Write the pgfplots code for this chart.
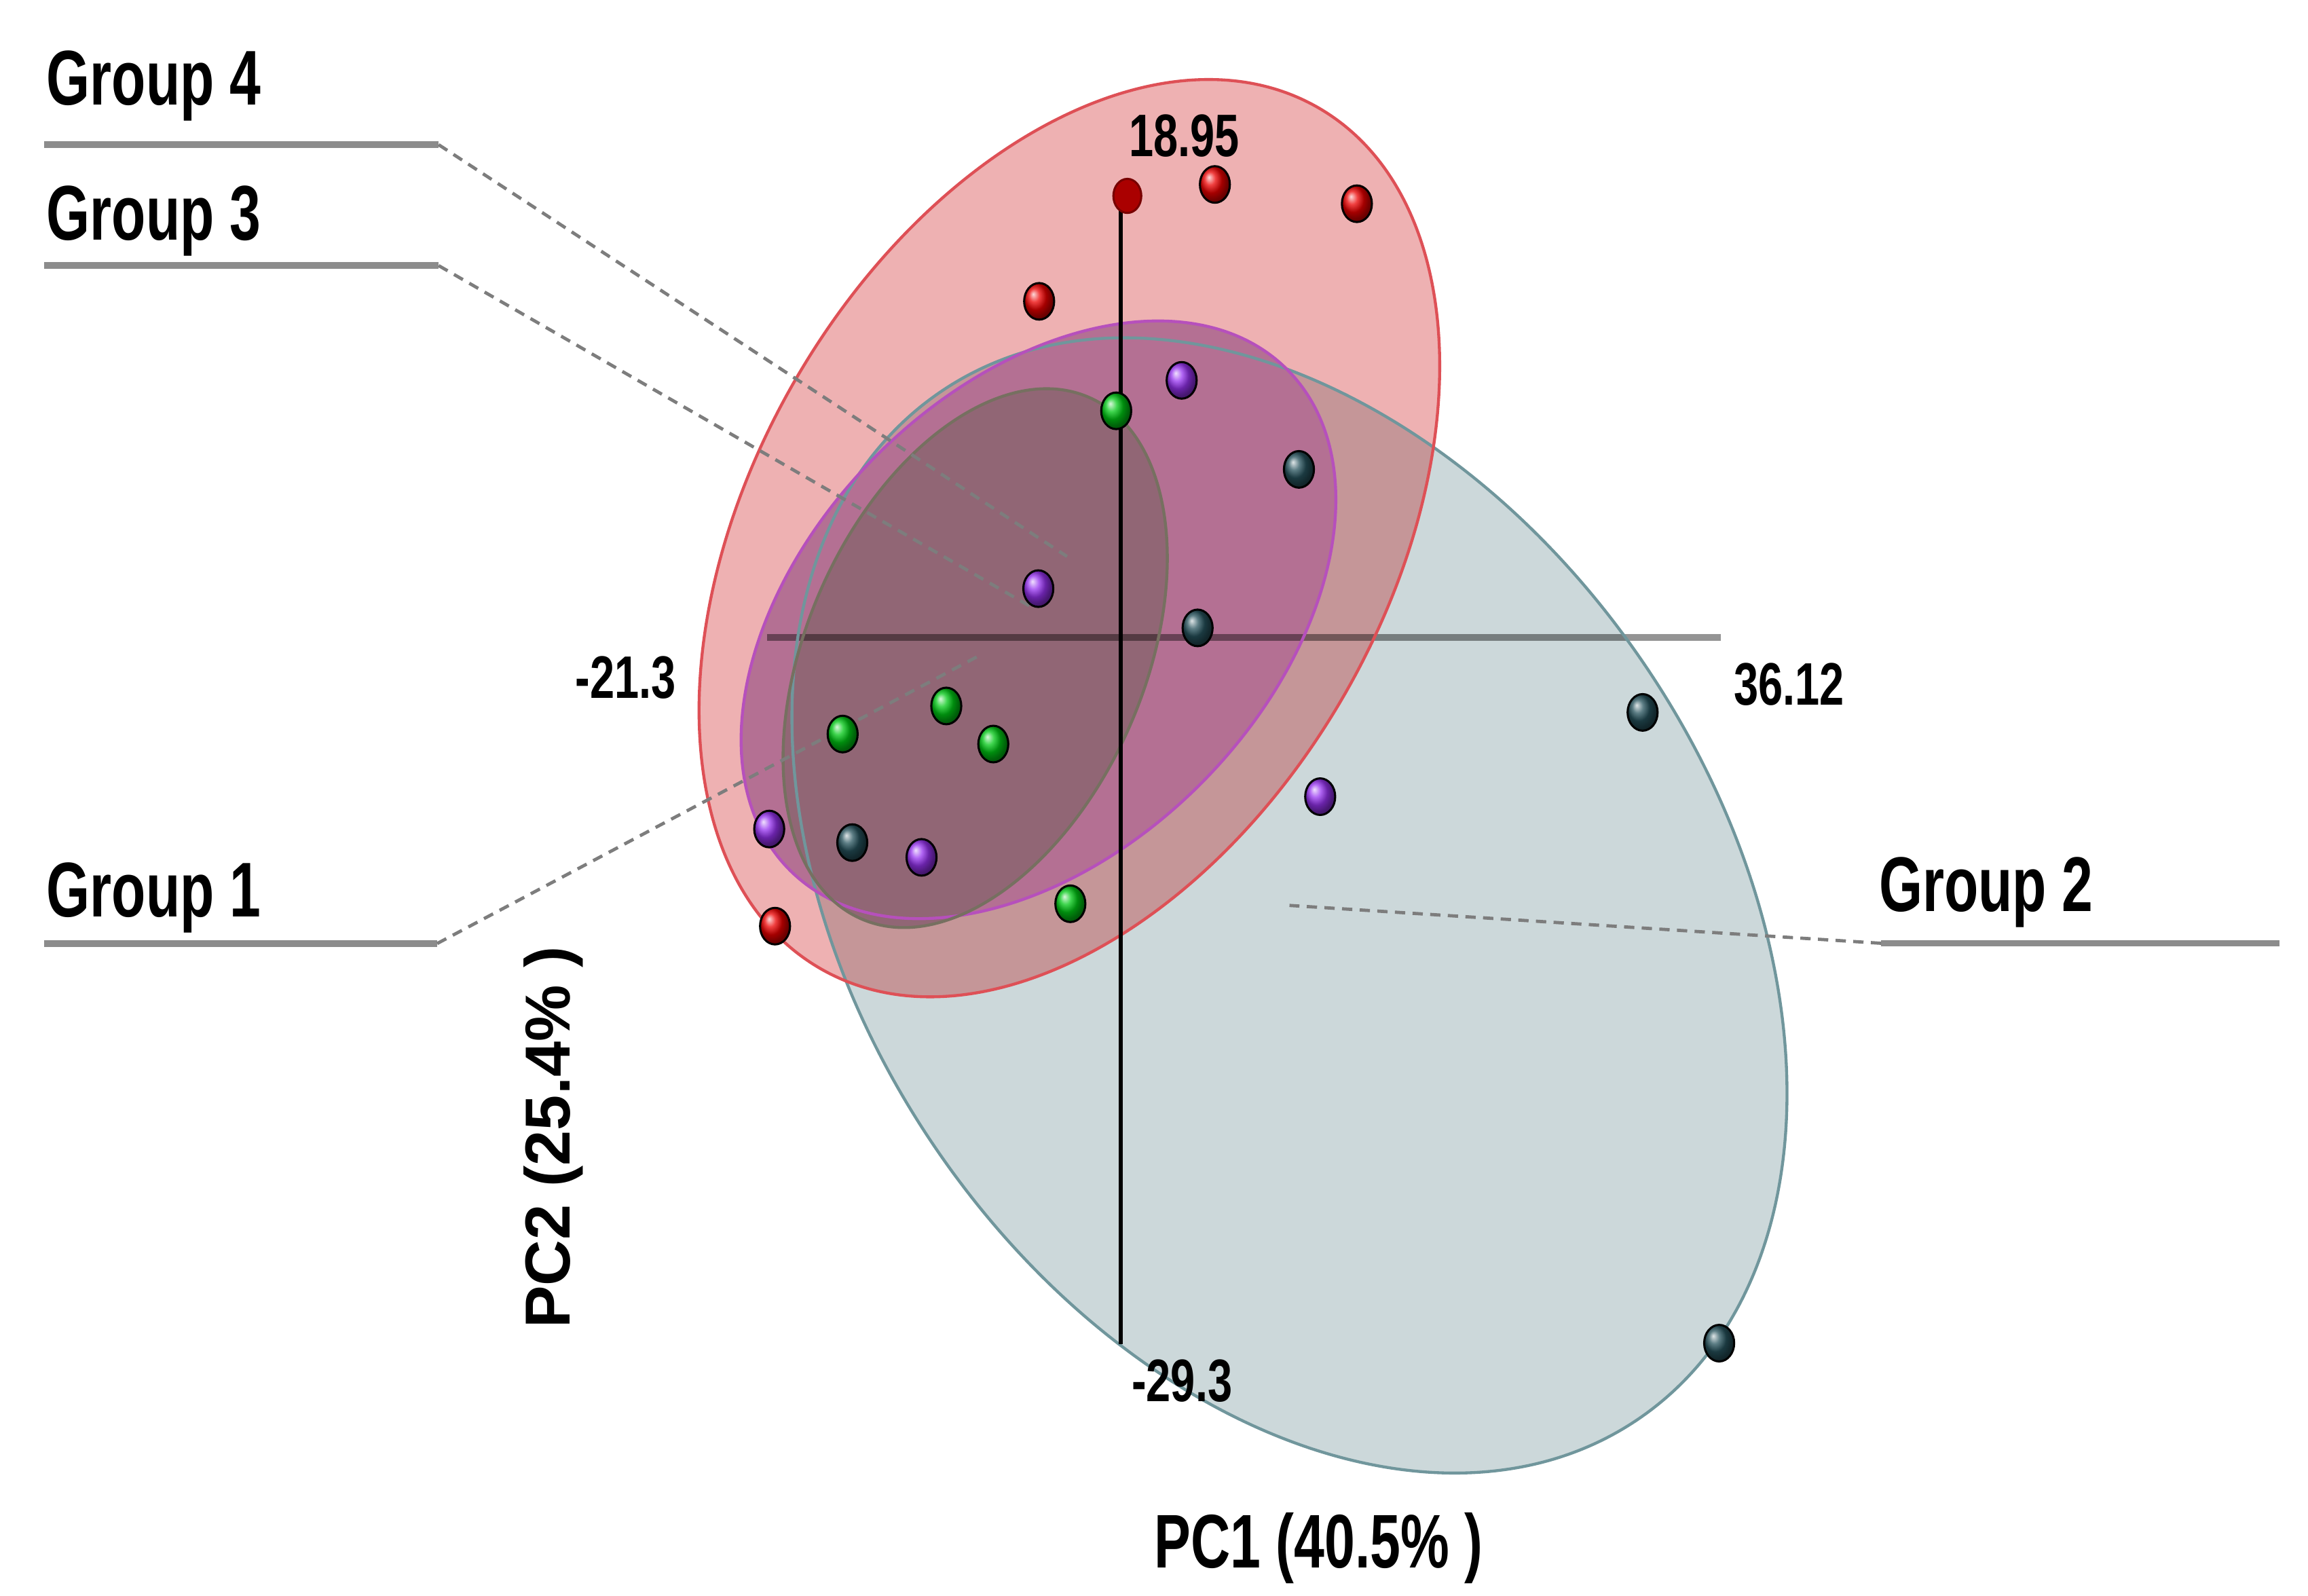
\documentclass[border=0pt]{standalone}
\usepackage{fontspec}
\setmainfont{Liberation Sans}
\usepackage{graphicx}
\usepackage{pgfplots}
\pgfplotsset{compat=1.18}

\definecolor{tealfill}{RGB}{204,216,218}
\definecolor{tealline}{RGB}{112,150,156}
\definecolor{redfill}{RGB}{238,177,178}
\definecolor{redteal}{RGB}{197,150,152}
\definecolor{redline}{RGB}{222,80,86}
\definecolor{purfill}{RGB}{180,112,147}
\definecolor{purline}{RGB}{182,80,188}
\definecolor{gonefill}{RGB}{145,102,117}
\definecolor{goneline}{RGB}{118,112,96}
\definecolor{ptred}{RGB}{235,0,0}
\definecolor{ptdred}{RGB}{170,0,0}
\definecolor{ptpur}{RGB}{150,50,240}
\definecolor{ptgrn}{RGB}{0,200,20}
\definecolor{ptteal}{RGB}{38,82,92}
\definecolor{connector}{RGB}{125,125,125}
\definecolor{labline}{RGB}{140,140,140}

\newcommand{\grouplab}[1]{\scalebox{0.72}[1]{\fontsize{15}{18}\selectfont\bfseries #1}}
\newcommand{\numlab}[1]{\scalebox{0.735}[1]{\fontsize{11.6}{14}\selectfont\bfseries #1}}

\begin{document}
\begin{tikzpicture}
\begin{axis}[
  scale only axis, width=15.68cm, height=10.84cm,
  xmin=-67.47, xmax=71.48, ymin=-39.87, ymax=27.17,
  hide axis, clip=false,
]
\path (rel axis cs:0,0) rectangle (rel axis cs:1,1);

% confidence ellipses (fills)
\fill[tealfill] (axis cs:10.16,-10.87) ellipse [x radius=4.218cm, y radius=2.915cm, rotate=-55.85];
\fill[redfill] (axis cs:-3.09,4.56) ellipse [x radius=3.378cm, y radius=2.15cm, rotate=59.9];
\begin{scope}
\clip (axis cs:10.16,-10.87) ellipse [x radius=4.218cm, y radius=2.915cm, rotate=-55.85];
\fill[redteal] (axis cs:-3.09,4.56) ellipse [x radius=3.378cm, y radius=2.15cm, rotate=59.9];
\end{scope}
\fill[purfill] (axis cs:-4.95,1.13) ellipse [x radius=2.397cm, y radius=1.567cm, rotate=45.35];
\fill[gonefill] (axis cs:-8.76,-0.48) ellipse [x radius=1.933cm, y radius=1.147cm, rotate=66.4];

% horizontal axis line
\draw[black!42, line width=0.45mm, blend mode=multiply] (axis cs:-21.3,0.39) -- (axis cs:36.12,0.39);

% outlines
\draw[tealline, line width=0.2mm] (axis cs:10.16,-10.87) ellipse [x radius=4.218cm, y radius=2.915cm, rotate=-55.85];
\draw[redline, line width=0.2mm] (axis cs:-3.09,4.56) ellipse [x radius=3.378cm, y radius=2.15cm, rotate=59.9];
\draw[purline, line width=0.2mm] (axis cs:-4.95,1.13) ellipse [x radius=2.397cm, y radius=1.567cm, rotate=45.35];
\draw[goneline, line width=0.2mm] (axis cs:-8.76,-0.48) ellipse [x radius=1.933cm, y radius=1.147cm, rotate=66.4];

% group label lines and connectors
\draw[labline, line width=0.45mm] (axis cs:-64.81,21.09) -- (axis cs:-41.06,21.09);
\draw[labline, line width=0.45mm] (axis cs:-64.81,16.01) -- (axis cs:-41.06,16.01);
\draw[labline, line width=0.45mm] (axis cs:-64.81,-12.47) -- (axis cs:-41.15,-12.47);
\draw[labline, line width=0.45mm] (axis cs:45.78,-12.46) -- (axis cs:69.75,-12.46);
\draw[connector, line width=0.22mm, dash pattern=on 0.7mm off 0.5mm] (axis cs:-41.06,21.09) -- (axis cs:-3.23,3.79);
\draw[connector, line width=0.22mm, dash pattern=on 0.7mm off 0.5mm] (axis cs:-41.06,16.01) -- (axis cs:-5.44,1.69);
\draw[connector, line width=0.22mm, dash pattern=on 0.7mm off 0.5mm] (axis cs:-41.15,-12.47) -- (axis cs:-8.45,-0.35);
\draw[connector, line width=0.22mm, dash pattern=on 0.7mm off 0.5mm] (axis cs:45.78,-12.46) -- (axis cs:10.16,-10.87);

% vertical axis line
\draw[black, line width=0.3mm] (axis cs:0,18.95) -- (axis cs:0,-29.3);

% points
\addplot[only marks, mark=ball, mark size=2.9pt, mark options={ball color=ptteal, yscale=1.22}] coordinates {
 (10.73,7.45) (4.63,0.79) (31.42,-2.76) (-16.16,-8.23) (36.03,-29.26)};
\addplot[only marks, mark=ball, mark size=2.9pt, mark options={ball color=ptgrn, yscale=1.22}] coordinates {
 (-0.27,9.91) (-10.50,-2.49) (-16.74,-3.67) (-7.67,-4.09) (-3.03,-10.80)};
\addplot[only marks, mark=ball, mark size=2.9pt, mark options={ball color=ptpur, yscale=1.22}] coordinates {
 (3.67,11.19) (-4.96,2.44) (12.01,-6.30) (-21.16,-7.66) (-11.99,-8.85)};
\addplot[only marks, mark=ball, mark size=2.9pt, mark options={ball color=ptred, yscale=1.22}] coordinates {
 (5.67,19.42) (14.22,18.61) (-4.91,14.51) (-20.81,-11.74)};
\addplot[only marks, mark=*, mark size=2.7pt, mark options={fill=ptdred, draw=ptdred!70!black, yscale=1.22}] coordinates {
 (0.4,18.94)};

% axis value labels
\node[inner sep=0pt] at (axis cs:3.82,21.45) {\numlab{18.95}};
\node[inner sep=0pt] at (axis cs:-29.81,-1.31) {\numlab{-21.3}};
\node[inner sep=0pt] at (axis cs:40.24,-1.59) {\numlab{36.12}};
\node[inner sep=0pt] at (axis cs:3.69,-30.84) {\numlab{-29.3}};

% group labels
\node[anchor=base west, inner sep=0pt] at (axis cs:-64.72,22.75) {\grouplab{Group 4}};
\node[anchor=base west, inner sep=0pt] at (axis cs:-64.72,17.09) {\grouplab{Group 3}};
\node[anchor=base west, inner sep=0pt] at (axis cs:-64.72,-11.34) {\grouplab{Group 1}};
\node[anchor=base west, inner sep=0pt] at (axis cs:45.59,-11.11) {\grouplab{Group 2}};

% axis titles
\node[anchor=base west, inner sep=0pt] at (axis cs:1.96,-38.71) {\scalebox{0.72}[1]{\fontsize{14.7}{17}\selectfont\bfseries PC1 (40.5\% )}};
\node[anchor=base west, inner sep=0pt, rotate=90] at (axis cs:-33.18,-28.68) {\fontsize{12.3}{15}\selectfont\bfseries PC2 (25.4\% )};
\end{axis}
\end{tikzpicture}
\end{document}
